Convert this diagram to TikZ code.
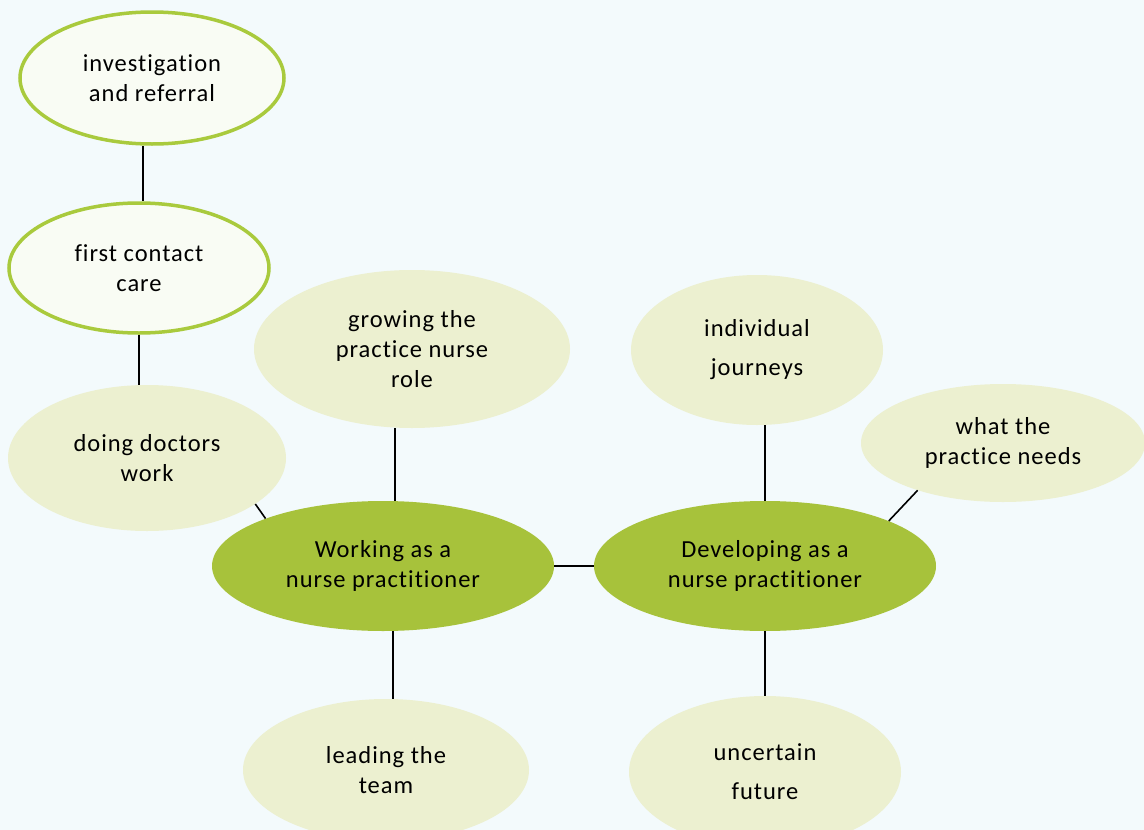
\documentclass[tikz,border=0pt]{standalone}
\usepackage{fontspec}
\setmainfont{Carlito}[LetterSpace=4,Ligatures=NoCommon]
\usetikzlibrary{shapes.geometric,positioning}
\definecolor{npback}{HTML}{F3FAFC}
\definecolor{nplight}{HTML}{ECF0D0}
\definecolor{npdark}{HTML}{A7C23B}
\definecolor{npring}{HTML}{A9CA3D}
\definecolor{npinner}{HTML}{F9FCF4}
\tikzset{
  bubble/.style={ellipse,inner sep=0pt,align=center,font=\fontsize{24.5}{30}\selectfont},
  theme/.style={bubble,fill=npdark},
  subtheme/.style={bubble,fill=nplight},
  ringed/.style={bubble,draw=npring,fill=npinner,line width=3.5pt},
  link/.style={black,line width=1.6pt}
}
\begin{document}
\begin{tikzpicture}[x=1pt,y=-1pt]
  \fill[npback] (0,0) rectangle (1144,830);
  \useasboundingbox (0,0) rectangle (1144,830);

  % ---- Main themes ------------------------------------------
  \node[theme,minimum width=342pt,minimum height=130pt] (working) at (383,566)
    {Working as a\\nurse practitioner};
  \node[theme,minimum width=342pt,minimum height=130pt] (developing) at (765,566)
    {Developing as a\\nurse practitioner};

  % ---- Left branch ------------------------------------------
  \node[ringed,minimum width=264pt,minimum height=132pt] (invest) at (152,78)
    {investigation\\and referral};
  \node[ringed,minimum width=260pt,minimum height=130pt] (contact) at (139,268)
    {first contact\\care};
  \node[subtheme,minimum width=278pt,minimum height=146pt] (doctors) at (147,458)
    {doing doctors\\work};
  \node[subtheme,minimum width=316pt,minimum height=158pt] (growing) at (412,349)
    {growing the\\practice nurse\\role};
  \node[subtheme,minimum width=286pt,minimum height=142pt] (leading) at (386,770)
    {leading the\\team};

  % ---- Right branch -----------------------------------------
  \node[subtheme,minimum width=252pt,minimum height=150pt] (journeys) at (757,350)
    {individual\\[9pt]journeys};
  \node[subtheme,minimum width=284pt,minimum height=118pt] (needs) at (1003,443)
    {what the\\practice needs};
  \node[subtheme,minimum width=272pt,minimum height=152pt] (future) at (765,772)
    {uncertain\\[9pt]future};

  % ---- Connectors -------------------------------------------
  \draw[link] (invest.south -| 143,0) -- (contact.north -| 143,0);
  \draw[link] (contact.south) -- (contact.south |- doctors.north);
  \draw[link] (doctors.-23) -- (working.158);
  \draw[link] (growing.south -| 395,0) -- (working.north -| 395,0);
  \draw[link] (working.south -| 393,0) -- (leading.north -| 393,0);
  \draw[link] (working.east) -- (developing.west);
  \draw[link] (journeys.south -| 765,0) -- (developing.north);
  \draw[link] (needs.-151) -- (developing.20);
  \draw[link] (developing.south) -- (future.north -| developing.south);

\end{tikzpicture}
\end{document}
